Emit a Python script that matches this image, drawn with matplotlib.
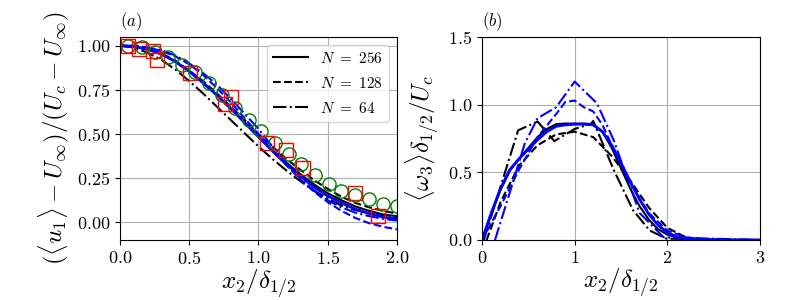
import numpy as np
import matplotlib
matplotlib.use('Agg')
import matplotlib.pyplot as plt

plt.rcParams['font.family'] = 'serif'
plt.rcParams['font.serif'] = ['cmr10']
plt.rcParams['mathtext.fontset'] = 'cm'
plt.rcParams['axes.formatter.use_mathtext'] = True

# -- panel (a): mean velocity profiles
x_u = [0, 0.1, 0.2, 0.3, 0.4, 0.5, 0.6, 0.7, 0.8, 0.9, 1.0,
       1.1, 1.2, 1.3, 1.4, 1.5, 1.6, 1.7, 1.8, 1.9, 2.0]
u_k256 = [1.00, 0.995, 0.98, 0.95, 0.91, 0.855, 0.79, 0.72, 0.645, 0.565, 0.485,
          0.41, 0.34, 0.275, 0.215, 0.165, 0.125, 0.09, 0.065, 0.045, 0.035]
u_k128 = [1.00, 0.995, 0.98, 0.955, 0.915, 0.86, 0.80, 0.73, 0.655, 0.58, 0.50,
          0.43, 0.36, 0.30, 0.24, 0.19, 0.145, 0.11, 0.085, 0.065, 0.05]
u_k64 = [1.00, 0.99, 0.96, 0.92, 0.865, 0.80, 0.73, 0.655, 0.58, 0.505, 0.43,
         0.36, 0.295, 0.235, 0.18, 0.135, 0.095, 0.07, 0.05, 0.035, 0.03]
u_b256 = [1.00, 0.995, 0.98, 0.955, 0.91, 0.855, 0.79, 0.72, 0.645, 0.565, 0.485,
          0.405, 0.33, 0.265, 0.20, 0.15, 0.11, 0.075, 0.05, 0.03, 0.02]
u_b128 = [1.00, 1.00, 0.99, 0.97, 0.94, 0.895, 0.835, 0.76, 0.68, 0.59, 0.50,
          0.41, 0.325, 0.245, 0.175, 0.115, 0.065, 0.025, -0.005, -0.025, -0.04]
u_b64 = [1.00, 1.00, 0.99, 0.975, 0.945, 0.90, 0.845, 0.78, 0.70, 0.615, 0.53,
         0.43, 0.335, 0.25, 0.18, 0.125, 0.085, 0.055, 0.035, 0.02, 0.01]

x_circ = [0.06, 0.16, 0.25, 0.35, 0.45, 0.54, 0.64, 0.74, 0.83, 0.93, 1.02,
          1.12, 1.22, 1.31, 1.41, 1.51, 1.60, 1.70, 1.80, 1.90, 2.00]
y_circ = [1.00, 0.99, 0.965, 0.935, 0.89, 0.85, 0.79, 0.72, 0.65, 0.58, 0.52,
          0.45, 0.385, 0.33, 0.27, 0.215, 0.175, 0.155, 0.13, 0.105, 0.095]
x_sq = [0.06, 0.14, 0.24, 0.27, 0.505, 0.76, 0.80, 1.06, 1.20, 1.32, 1.70, 1.865]
y_sq = [1.00, 0.98, 0.97, 0.92, 0.845, 0.67, 0.71, 0.45, 0.41, 0.305, 0.165, 0.034]

# -- panel (b): mean vorticity profiles
x_w = [0, 0.1, 0.2, 0.3, 0.4, 0.5, 0.6, 0.7, 0.8, 0.9, 1.0, 1.1, 1.2, 1.3,
       1.4, 1.5, 1.6, 1.7, 1.8, 1.9, 2.0, 2.1, 2.2, 2.4, 2.6, 3.0]
w_k256 = [0, 0.19, 0.37, 0.51, 0.60, 0.68, 0.76, 0.82, 0.855, 0.86, 0.86, 0.86,
          0.855, 0.80, 0.68, 0.53, 0.38, 0.25, 0.15, 0.08, 0.04, 0.02, 0.008, 0.002, 0, 0]
w_b256 = [0, 0.20, 0.38, 0.52, 0.60, 0.67, 0.74, 0.80, 0.84, 0.85, 0.855, 0.855,
          0.85, 0.80, 0.70, 0.57, 0.43, 0.30, 0.19, 0.11, 0.055, 0.025, 0.01, 0.003, 0, 0]
x_k128 = [0.05, 0.2, 0.4, 0.6, 0.8, 1.0, 1.2, 1.4, 1.6, 1.8, 2.0, 2.2, 2.4, 3.0]
w_k128 = [0, 0.28, 0.55, 0.70, 0.78, 0.80, 0.76, 0.62, 0.44, 0.24, 0.09, 0.02, 0.0, 0.0]
x_k64 = [0.02, 0.39, 0.60, 0.78, 1.00, 1.18, 1.20, 1.42, 1.63, 1.81, 1.99, 3.0]
w_k64 = [0, 0.81, 0.875, 0.73, 0.82, 0.86, 0.88, 0.52, 0.22, 0.07, 0.01, 0.0]
x_b128 = [0, 0.2, 0.4, 0.6, 0.8, 0.9, 1.0, 1.1, 1.2, 1.3, 1.4, 1.6, 1.8, 2.0, 2.2, 2.5, 3.0]
w_b128 = [0, 0.25, 0.52, 0.76, 0.93, 1.02, 1.03, 0.98, 0.95, 0.85, 0.70, 0.42, 0.20, 0.07, 0.02, 0.0, 0.0]
x_b64 = [0.14, 0.3, 0.46, 0.6, 0.8, 1.0, 1.24, 1.42, 1.7, 1.96, 3.0]
w_b64 = [0, 0.35, 0.71, 0.90, 0.98, 1.17, 1.01, 0.74, 0.20, 0.02, 0.0]

fig = plt.figure(figsize=(8, 3), dpi=100)
ax1 = fig.add_axes([0.15, 0.20, 0.346, 0.677])
ax2 = fig.add_axes([0.6025, 0.20, 0.3475, 0.677])

lw = 1.5
ax1.plot(x_u, u_k256, 'k-', lw=lw, label=r'$N\ =\ 256$')
ax1.plot(x_u, u_k128, 'k--', lw=lw, label=r'$N\ =\ 128$')
ax1.plot(x_u, u_k64, 'k-.', lw=lw, label=r'$N\ =\ 64$')
ax1.plot(x_u, u_b256, 'b-', lw=2)
ax1.plot(x_u, u_b128, 'b--', lw=lw)
ax1.plot(x_u, u_b64, 'b-.', lw=lw)
ax1.plot(x_circ, y_circ, 'o', mfc='none', mec='green', ms=9.5, mew=1.0)
ax1.plot(x_sq, y_sq, 's', mfc='none', mec='red', ms=10, mew=1.0)
ax1.set_xlim(0, 2)
ax1.set_ylim(-0.1, 1.05)
ax1.set_xticks([0, 0.5, 1.0, 1.5, 2.0])
ax1.set_yticks([0, 0.25, 0.5, 0.75, 1.0])
ax1.set_xticklabels(['$0.0$', '$0.5$', '$1.0$', '$1.5$', '$2.0$'])
ax1.set_yticklabels(['$0.00$', '$0.25$', '$0.50$', '$0.75$', '$1.00$'])
ax1.grid(True)
ax1.set_xlabel(r'$x_2/\delta_{1/2}$', fontsize=18, labelpad=1)
ax1.set_ylabel(r'$(\langle u_1\rangle - U_\infty)/(U_c - U_\infty)$', fontsize=18)
ax1.text(0.0, 1.02, '$(a)$', transform=ax1.transAxes, fontsize=12, va='bottom')
ax1.legend(loc='upper right', fontsize=11, labelspacing=0.65, handlelength=2.3)

ax2.plot(x_w, w_k256, 'k-', lw=lw)
ax2.plot(x_k128, w_k128, 'k--', lw=lw)
ax2.plot(x_k64, w_k64, 'k-.', lw=lw)
ax2.plot(x_w, w_b256, 'b-', lw=2)
ax2.plot(x_b128, w_b128, 'b--', lw=lw)
ax2.plot(x_b64, w_b64, 'b-.', lw=lw)
ax2.set_xlim(0, 3)
ax2.set_ylim(0, 1.5)
ax2.set_xticks([0, 1, 2, 3])
ax2.set_yticks([0, 0.5, 1.0, 1.5])
ax2.set_xticklabels(['$0$', '$1$', '$2$', '$3$'])
ax2.set_yticklabels(['$0.0$', '$0.5$', '$1.0$', '$1.5$'])
ax2.grid(True)
ax2.set_xlabel(r'$x_2/\delta_{1/2}$', fontsize=18, labelpad=1)
ax2.set_ylabel(r'$\langle\omega_3\rangle\delta_{1/2}/U_c$', fontsize=18)
ax2.text(0.0, 1.02, '$(b)$', transform=ax2.transAxes, fontsize=12, va='bottom')

for ax in (ax1, ax2):
    ax.tick_params(labelsize=13)

fig.savefig('out.png', dpi=100)
